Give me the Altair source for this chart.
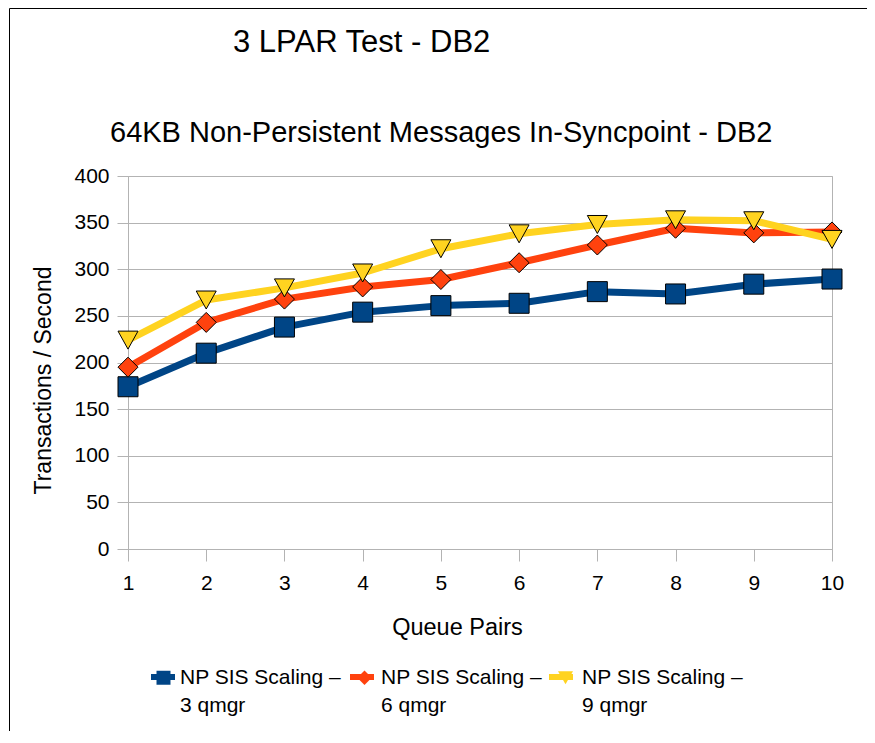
import altair as alt
import pandas as pd

# ---------------- data ----------------
queue_pairs = [1, 2, 3, 4, 5, 6, 7, 8, 9, 10]
series_names = [
    "NP SIS Scaling – 3 qmgr",
    "NP SIS Scaling – 6 qmgr",
    "NP SIS Scaling – 9 qmgr",
]
tps_3qmgr = [174, 210, 238, 254, 261, 263.5, 276, 273.5, 284, 289.5]
tps_6qmgr = [195, 243, 268, 281, 289, 307, 326, 344, 339, 340]
tps_9qmgr = [224, 267, 280, 296, 322, 338, 348, 353, 352, 332]
y_ticks = [0, 50, 100, 150, 200, 250, 300, 350, 400]
colors = ["#004586", "#ff420e", "#ffd320"]

main_title = "3 LPAR Test - DB2"
sub_title = "64KB Non-Persistent Messages In-Syncpoint - DB2"

rows = []
for name, vals in zip(series_names, [tps_3qmgr, tps_6qmgr, tps_9qmgr]):
    for q, v in zip(queue_pairs, vals):
        rows.append({"qp": q, "tps": v, "series": name})
df = pd.DataFrame(rows)
one = pd.DataFrame({"k": [0]})

FONT = "Liberation Sans"
GRID = "#b3b3b3"
LH = 28  # legend label line height

# ---------------- shapes ----------------
data_shapes = ["square", "diamond", "M-1,-0.9L1,-0.9L0,0.9Z"]
bar_path = "M-1,-0.25H1V0.25H-1Z"
legend_shapes = [
    "M-0.583,-0.583H0.583V0.583H-0.583Z",
    "M-0.6,0L0,-0.6L0.6,0L0,0.6Z",
    "M-0.625,-0.55L0.625,-0.55L0,0.55Z",
]

# ---------------- encodings ----------------
x_enc = alt.X(
    "qp:Q",
    scale=alt.Scale(domain=[1, 10], nice=False, zero=False),
    axis=alt.Axis(
        values=queue_pairs,
        title="Queue Pairs",
        grid=False,
        tickSize=12,
        tickColor=GRID,
        domainColor=GRID,
        labelFontSize=21,
        labelPadding=11,
        labelFlush=False,
        labelOverlap=False,
        labelColor="black",
        titleFontSize=23.5,
        titleFontWeight="normal",
        titleColor="black",
        titleX=329,
        titleY=85,
        titleAlign="center",
        titleBaseline="alphabetic",
    ),
)
y_enc = alt.Y(
    "tps:Q",
    scale=alt.Scale(domain=[0, 400], nice=False),
    axis=alt.Axis(
        values=y_ticks,
        title="Transactions / Second",
        grid=True,
        gridColor=GRID,
        tickSize=11,
        tickColor=GRID,
        domainColor=GRID,
        labelFontSize=21,
        labelPadding=8,
        labelFlush=False,
        labelColor="black",
        titleFontSize=23,
        titleFontWeight="normal",
        titleColor="black",
        titleX=-85,
        titleY=204,
        titleAngle=270,
        titleAlign="center",
        titleBaseline="middle",
    ),
)
color_scale = alt.Scale(domain=series_names, range=colors)

label_expr = "[slice(datum.label, 0, 16), slice(datum.label, 17)]"
legend_common = dict(
    title=None,
    orient="none",
    legendX=23,
    legendY=489,
    direction="horizontal",
    columns=3,
    symbolSize=576,
    symbolOpacity=1,
    labelFontSize=21,
    labelFont=FONT,
    labelColor="black",
    labelLimit=400,
    padding=0,
)
legend_bars = alt.Legend(
    symbolType=bar_path,
    symbolStrokeWidth=0,
    labelExpr="''",
    labelOffset=0,
    columnPadding=175,
    zindex=1,
    **legend_common,
)
legend_marks = alt.Legend(
    symbolStrokeColor="black",
    symbolStrokeWidth=1,
    labelExpr=label_expr,
    labelOffset=4,
    columnPadding=10,
    zindex=2,
    **legend_common,
)

base = alt.Chart(df).encode(x=x_enc, y=y_enc)

lines = base.mark_line(strokeWidth=7, strokeJoin="round").encode(
    color=alt.Color("series:N", scale=color_scale, legend=None)
)
points = base.mark_point(
    filled=True, size=400, stroke="black", strokeWidth=1, opacity=1
).encode(
    color=alt.Color("series:N", scale=color_scale, legend=None),
    shape=alt.Shape(
        "series:N", scale=alt.Scale(domain=series_names, range=data_shapes), legend=None
    ),
)

leg_bar_layer = (
    alt.Chart(df)
    .transform_filter("false")
    .transform_calculate(lg_bar="datum.series")
    .mark_point(filled=True, shape=bar_path, size=576, strokeWidth=0, opacity=1)
    .encode(
        x=x_enc,
        y=y_enc,
        color=alt.Color("lg_bar:N", scale=color_scale, legend=legend_bars),
    )
)
leg_mark_layer = (
    alt.Chart(df)
    .transform_filter("false")
    .transform_calculate(lg_mk="datum.series")
    .mark_point(filled=True, size=576, stroke="black", strokeWidth=1, opacity=1)
    .encode(
        x=x_enc,
        y=y_enc,
        color=alt.Color("lg_mk:N", scale=color_scale, legend=legend_marks),
        shape=alt.Shape(
            "lg_mk:N",
            scale=alt.Scale(domain=series_names, range=legend_shapes),
            legend=legend_marks,
        ),
    )
)

# decorations: outer border and titles
border_left = alt.Chart(one).mark_rule(color="black", strokeWidth=1).encode(
    x=alt.value(-118.5), y=alt.value(-167.5), y2=alt.value(580)
)
border_top = alt.Chart(one).mark_rule(color="black", strokeWidth=1).encode(
    x=alt.value(-118.5), x2=alt.value(760), y=alt.value(-167.5)
)
title_text = alt.Chart(one).mark_text(
    text=main_title, align="left", baseline="alphabetic", fontSize=31, font=FONT, color="black"
).encode(x=alt.value(105), y=alt.value(-124))
subtitle_text = alt.Chart(one).mark_text(
    text=sub_title, align="left", baseline="alphabetic", fontSize=29, font=FONT, color="black"
).encode(x=alt.value(-18), y=alt.value(-34))

chart = (
    alt.layer(
        lines,
        points,
        leg_bar_layer,
        leg_mark_layer,
        border_left,
        border_top,
        title_text,
        subtitle_text,
    )
    .resolve_scale(color="independent", shape="independent")
    .properties(
        width=704,
        height=373,
        autosize=alt.AutoSizeParams(type="none"),
        padding={"left": 120, "top": 168, "right": 35, "bottom": 182},
    )
    .configure(font=FONT, style={"guide-label": {"lineHeight": LH}})
    .configure_view(stroke=GRID, strokeWidth=1)
)

chart.save("out.html", embed_options={"renderer": "svg", "actions": False})
